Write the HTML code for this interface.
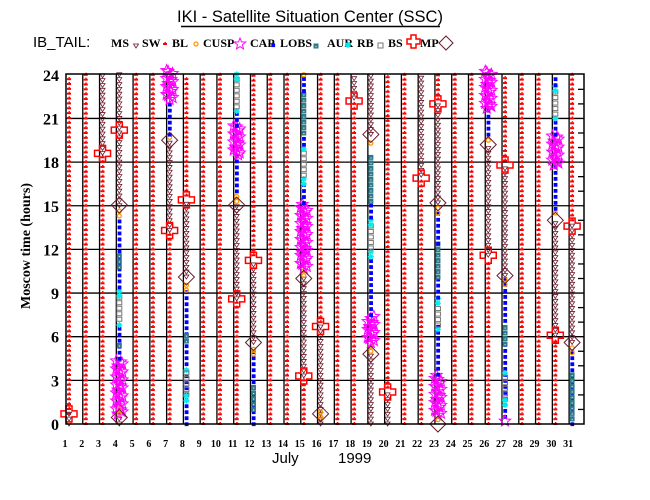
<!DOCTYPE html>
<html><head><meta charset="utf-8"><style>
html,body{margin:0;padding:0;background:#fff;}
svg{display:block;}
</style></head><body>
<svg id="s" width="650" height="500" xmlns="http://www.w3.org/2000/svg">
<rect width="650" height="500" fill="#fff"/>
<text x="310" y="22" font-family="Liberation Sans, sans-serif" font-size="16.5" text-anchor="middle" fill="#000">IKI - Satellite Situation Center (SSC)</text>
<line x1="181" y1="26.5" x2="440" y2="26.5" stroke="#000" stroke-width="1.5"/>
<text x="33" y="47" font-family="Liberation Sans, sans-serif" font-size="15" fill="#000">IB_TAIL:</text>
<g font-family="Liberation Serif, serif" font-weight="bold" font-size="12" fill="#000">
<text x="111" y="47">MS</text><text x="142" y="47">SW</text><text x="172" y="47">BL</text>
<text x="203" y="47">CUSP</text><text x="250" y="47">CAP</text><text x="280" y="47">LOBS</text>
<text x="327" y="47">AUR</text><text x="357" y="47">RB</text><text x="388" y="47">BS</text><text x="420" y="47">MP</text>
</g>
<g id="leg"></g>
<g id="grid"></g>
<g id="data"></g>
<g id="frame"></g>
<text transform="translate(30,246) rotate(-90)" font-family="Liberation Serif, serif" font-weight="bold" font-size="14" text-anchor="middle" fill="#000">Moscow time (hours)</text>
<text x="272" y="463" font-family="Liberation Sans, sans-serif" font-size="15" fill="#000">July</text>
<text x="338" y="463" font-family="Liberation Sans, sans-serif" font-size="15" fill="#000">1999</text>
</svg>
<script>
var NS="http://www.w3.org/2000/svg";
function el(p,t,a){var e=document.createElementNS(NS,t);for(var k in a)e.setAttribute(k,a[k]);p.appendChild(e);return e;}
var X0=66,DX=16.77,L=66,R=584,T=74,B=424;
function gx(d){return X0+(d-1)*DX;}
function cx(d){return gx(d)+3;}
function Y(h){return 424-14.55*h;}
var G=document.getElementById('grid'),D=document.getElementById('data'),F=document.getElementById('frame'),LG=document.getElementById('leg');
for(var d=2;d<=31;d++)el(G,'line',{x1:gx(d),y1:T,x2:gx(d),y2:B,stroke:'#000','stroke-width':1.3});
for(var h=3;h<=21;h+=3)el(G,'line',{x1:L,y1:Y(h),x2:R,y2:Y(h),stroke:'#000','stroke-width':1.3});
el(F,'rect',{x:L,y:T,width:R-L,height:B-T,fill:'none',stroke:'#000','stroke-width':1.5});
for(var h=1;h<24;h++)if(h%3)el(F,'line',{x1:578,y1:Y(h),x2:584,y2:Y(h),stroke:'#000','stroke-width':1.3});
for(var h=0;h<=24;h+=3){var t=el(F,'text',{x:59,y:Y(h)+6,'text-anchor':'end','font-family':'Liberation Serif, serif','font-weight':'bold','font-size':16,fill:'#000'});t.textContent=h;}
for(var d=1;d<=31;d++){var t=el(F,'text',{x:gx(d)-1,y:447,'text-anchor':'middle','font-family':'Liberation Serif, serif','font-weight':'bold','font-size':10,fill:'#000'});t.textContent=d;}
var BR='#6a1a2a';
function mk(p,type,x,y){
 switch(type){
 case 'SW':el(p,'rect',{x:x-2,y:y-1,width:4,height:2,fill:'#f00'});el(p,'rect',{x:x-0.5,y:y-2,width:1.5,height:1,fill:'#f00'});break;
 case 'MS':el(p,'path',{d:'M'+(x-2.5)+' '+(y-2)+'h5l-2.5 4z',fill:'none',stroke:BR,'stroke-width':0.8});break;
 case 'CAP':el(p,'rect',{x:x-1.7,y:y-1.7,width:3.8,height:3.8,fill:'#00f'});break;
 case 'LOBS':el(p,'rect',{x:x-2.5,y:y-2.5,width:5,height:5,fill:'#2e7a86'});el(p,'rect',{x:x-0.5,y:y,width:1.2,height:1.2,fill:'#cde'});break;
 case 'RB':el(p,'rect',{x:x-2.5,y:y-2,width:5,height:4,fill:'none',stroke:'#777','stroke-width':1});break;
 case 'AUR':el(p,'path',{d:'M'+(x-3)+' '+y+'h6M'+x+' '+(y-3)+'v6M'+(x-2)+' '+(y-2)+'l4 4M'+(x+2)+' '+(y-2)+'l-4 4',stroke:'#0ee','stroke-width':1.3});break;
 case 'BL':el(p,'circle',{cx:x,cy:y,r:2,fill:'none',stroke:'#f90','stroke-width':1.3});break;
 case 'CUSP':var s='';for(var i=0;i<10;i++){var a=-Math.PI/2+i*Math.PI/5,r=i%2?2.6:6;s+=(i?'L':'M')+(x+r*Math.cos(a)).toFixed(1)+' '+(y+r*Math.sin(a)).toFixed(1);}
  el(p,'path',{d:s+'Z',fill:'none',stroke:'#f0f','stroke-width':1});break;
 }
}
function seg(d,type,h0,h1){var x=cx(d),step=type=='CUSP'?4:(type=='LOBS'||type=='RB'?5.5:(type=='CAP'?6:4.85));
 var y0=Y(h0),y1=Y(h1);for(var y=y0;y>=y1-0.1;y-=step){mk(D,type,type=='CUSP'?x+((Math.round(y)%3)-1)*1.5:x,y);}
 if(type=='CUSP'){for(var y=y0-2;y>=y1;y-=8)mk(D,type,x+3,y);for(var y=y0-5;y>=y1;y-=8)mk(D,type,x-3,y);}}
function mp(d,h){var x=cx(d),y=Y(h);el(D,'path',{d:'M'+(x-3)+' '+(y-8)+'h6v5h5v6h-5v5h-6v-5h-5v-6h5z',fill:'none',stroke:'#f00','stroke-width':1.5});}
function dia(d,h){var x=cx(d),y=Y(h);el(D,'path',{d:'M'+x+' '+(y-8)+'l8 8l-8 8l-8-8z',fill:'none',stroke:BR,'stroke-width':1});}
var days={
1:[['SW',0.7,24],['MS',0,0.7],['mp',0.7]],
3:[['SW',0,18.5],['MS',18.6,24],['mp',18.6]],
4:[['MS',0,0.45],['CUSP',0.7,4.5],['CAP',4.5,6.8],['LOBS',5.4,5.7],['AUR',6.8,7.1],['RB',7.2,8.8],['AUR',8.8,9.4],['CAP',9.4,14.3],['LOBS',10.8,11.7],['BL',14.3,14.8],['MS',15,24],['dia',15.05],['mp',20.2],['BL',0.7,1.1],['dia',0.45]],
7:[['SW',0,13.1],['MS',13.3,19.5],['BL',19.7,20],['CAP',19.9,22.3],['CUSP',22.3,24.3],['dia',19.5],['mp',13.3]],
8:[['CAP',0,9.1],['LOBS',5.7,6.3],['AUR',3.7,4],['RB',2,3.7],['AUR',1.6,2],['BL',9.2,9.8],['MS',10.1,15.4],['SW',15.7,24],['dia',10.1],['mp',15.4]],
11:[['SW',0,8.4],['MS',8.6,15],['BL',15.3,15.7],['CAP',16,18.5],['CUSP',18.5,20.5],['CAP',20.5,21.5],['AUR',21.5,21.8],['RB',21.8,23.7],['AUR',23.7,24.1],['dia',15.05],['mp',8.6]],
12:[['CAP',0,5.2],['LOBS',1,2.6],['BL',4.8,5.4],['MS',5.6,11.2],['SW',11.6,24],['dia',5.6],['mp',11.25]],
15:[['SW',0,3.1],['MS',3.3,10],['BL',10.2,10.6],['CUSP',10.7,15.2],['CAP',15.2,16.5],['AUR',16.5,17],['RB',17.1,18.9],['AUR',18.9,19.2],['CAP',19.2,20],['LOBS',20,22.9],['CAP',22.9,23.9],['BL',24,24.1],['dia',10],['mp',3.3]],
16:[['MS',0,6.7],['SW',7,24],['BL',0.5,0.9],['dia',0.7],['mp',6.7]],
18:[['SW',0,22],['MS',22.4,24],['mp',22.2]],
19:[['MS',0,4.8],['BL',5,5.4],['CUSP',5.6,7.5],['CAP',7.5,11.5],['AUR',11.5,12.1],['RB',12.1,13.7],['AUR',13.7,14.2],['CAP',14.2,15.3],['LOBS',15.3,18.5],['BL',19.3,19.6],['MS',19.9,24],['dia',4.8],['dia',19.9]],
20:[['MS',0,2.2],['SW',2.5,24],['mp',2.2]],
22:[['SW',0,16.7],['MS',17.1,24],['mp',16.9]],
23:[['CUSP',0.6,3.4],['CAP',3.4,6.8],['AUR',6.5,6.8],['RB',6.8,8.3],['AUR',8.3,8.7],['CAP',8.7,10.1],['LOBS',10.1,12.4],['CAP',12.4,14.5],['BL',14.5,15],['MS',15.2,22],['SW',22.3,24],['BL',0.3,0.6],['dia',0],['dia',15.2],['mp',22]],
26:[['SW',0,11.3],['MS',11.6,19.2],['BL',19.5,19.8],['CAP',19.9,21.7],['CUSP',21.7,24.3],['dia',19.2],['mp',11.6]],
27:[['CAP',0.5,10],['LOBS',5.5,7],['AUR',3.5,3.8],['RB',1.7,3.4],['AUR',1.3,1.7],['BL',9.6,10],['MS',10.2,17.8],['SW',18.1,24],['CUSP',0.2,0.2],['dia',10.2],['mp',17.8]],
30:[['SW',0,5.8],['MS',6.1,14],['BL',14.5,14.8],['CAP',14.8,17.8],['CUSP',17.8,19.9],['CAP',19.9,21],['AUR',21,21.3],['RB',21.3,22.9],['AUR',22.9,23.3],['CAP',23.3,24.1],['dia',14],['mp',6.1]],
31:[['CAP',0,5],['LOBS',0.35,3.45],['BL',4.9,5.4],['MS',5.6,13.6],['SW',14,24],['dia',5.6],['mp',13.6]]
};
for(var d=1;d<=31;d++){var L2=days[d];if(!L2){seg(d,'SW',0,24.1);continue;}
 L2.forEach(function(s){if(s[0]=='mp'||s[0]=='dia')return;seg(d,s[0],s[1],s[2]);});
 L2.forEach(function(s){if(s[0]=='mp')mp(d,s[1]);if(s[0]=='dia')dia(d,s[1]);});}
var ly=44;
mk(LG,'MS',136,ly+2);mk(LG,'SW',165,ly);mk(LG,'BL',196,ly);mk(LG,'CUSP',240,ly);mk(LG,'CAP',273,ly+1);mk(LG,'LOBS',316,ly+2);mk(LG,'AUR',348,ly+1);
el(LG,'rect',{x:378,y:ly-1,width:5,height:5,fill:'none',stroke:'#777'});
el(LG,'path',{d:'M411 35h5v4h4v5h-4v4h-5v-4h-4v-5h4z',fill:'none',stroke:'#f00','stroke-width':1.5});
el(LG,'path',{d:'M446 36l7 7l-7 7l-7-7z',fill:'none',stroke:BR,'stroke-width':1});
</script>
</body></html>
